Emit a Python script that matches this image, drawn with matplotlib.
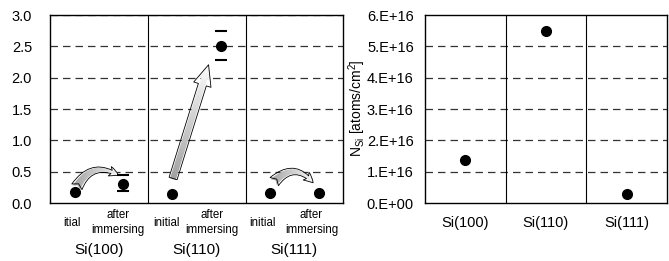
import numpy as np
import matplotlib
matplotlib.use("Agg")
import matplotlib.pyplot as plt
from matplotlib.patches import FancyArrowPatch
from matplotlib.transforms import blended_transform_factory

plt.rcParams['font.family'] = ['Liberation Sans', 'DejaVu Sans']
plt.rcParams['mathtext.default'] = 'regular'

# left panel data
sub_labels = ["itial", "after\nimmersing", "initial", "after\nimmersing", "initial", "after\nimmersing"]
sub_label_x = [-0.05, 0.89, 1.88, 2.82, 3.84, 4.85]
groups = ["Si(100)", "Si(110)", "Si(111)"]
ratio = [0.18, 0.30, 0.14, 2.50, 0.16, 0.16]
err_low = [0, 0.10, 0, 0.22, 0, 0]
err_high = [0, 0.15, 0, 0.25, 0, 0]

# right panel data
n_si = [1.38e16, 5.48e16, 0.30e16]

fig = plt.figure(figsize=(6.69, 2.61), dpi=100)

grid_kw = dict(color='#333333', ls=(0, (6, 4)), lw=0.9)


def shaded_arrow(ax, start, end, style, scale, extent, vertical, **kw):
    # arrow outline + grey-to-white fill clipped to the arrow shape
    arr = FancyArrowPatch(start, end, arrowstyle=style, mutation_scale=scale,
                          fc='none', ec='black', lw=0.6, zorder=4, **kw)
    ax.add_patch(arr)
    g = np.linspace(0.62, 1.0, 64)
    img = g.reshape(-1, 1) if vertical else g.reshape(1, -1)
    im = ax.imshow(img, extent=extent, origin='lower', cmap='gray', vmin=0, vmax=1,
                   aspect='auto', zorder=3, interpolation='bilinear')
    im.set_clip_path(arr)
    return arr


# ---------- left ----------
ax1 = fig.add_axes([0.075, 0.222, 0.438, 0.72])
x1 = np.arange(len(ratio))

shaded_arrow(ax1, (0.02, 0.22), (0.95, 0.42),
             "fancy,head_length=0.5,head_width=0.5,tail_width=0.6", 14,
             (-0.1, 1.05, 0.1, 0.7), False, connectionstyle="arc3,rad=-0.55")
shaded_arrow(ax1, (2.0, 0.35), (2.76, 2.25),
             "simple,head_length=0.75,head_width=0.65,tail_width=0.3", 20,
             (1.8, 3.0, 0.3, 2.3), True)
shaded_arrow(ax1, (4.05, 0.31), (4.92, 0.29),
             "fancy,head_length=0.5,head_width=0.5,tail_width=0.6", 14,
             (3.95, 5.0, 0.1, 0.7), False, connectionstyle="arc3,rad=-0.6")

ax1.set_xlim(-0.5, 5.5)
ax1.set_ylim(0, 3.0)
ax1.set_yticks(np.arange(0, 3.01, 0.5))
ax1.set_yticklabels(["%.1f" % v for v in np.arange(0, 3.01, 0.5)], fontsize=10.5)
ax1.set_xticks([])
ax1.tick_params(axis='y', length=0, pad=13)
for v in np.arange(0.5, 3.01, 0.5):
    ax1.axhline(v, zorder=1, **grid_kw)
for v in [1.5, 3.5]:
    ax1.axvline(v, color='black', lw=0.8, zorder=1)

ax1.plot(x1, ratio, 'o', color='black', ms=7, zorder=5)
idx = [1, 3]
ax1.errorbar(x1[idx], np.array(ratio)[idx],
             yerr=[np.array(err_low)[idx], np.array(err_high)[idx]],
             fmt='none', ecolor='black', elinewidth=0, capsize=4.5, capthick=1.5, zorder=5)

tr = blended_transform_factory(ax1.transData, ax1.transAxes)
for xo, lab in zip(sub_label_x, sub_labels):
    ax1.text(xo, -0.105, lab, transform=tr, ha='center', va='center',
             fontsize=8.3, linespacing=1.3)
for g, lab in enumerate(groups):
    ax1.text(2 * g + 0.5, -0.25, lab, transform=tr, ha='center', va='center', fontsize=11)

for s in ax1.spines.values():
    s.set_linewidth(1.0)

# ---------- right ----------
ax2 = fig.add_axes([0.635, 0.222, 0.362, 0.72])
x2 = np.arange(len(n_si))
ax2.set_xlim(-0.5, 2.5)
ax2.set_ylim(0, 6e16)
yt = np.arange(0, 6.01e16, 1e16)
ax2.set_yticks(yt)
ax2.set_yticklabels(["0.E+00"] + ["%d.E+16" % k for k in range(1, 7)], fontsize=10.5)
ax2.set_xticks(x2)
ax2.set_xticklabels(groups, fontsize=10.5)
ax2.tick_params(axis='y', length=0, pad=8)
ax2.tick_params(axis='x', length=0, pad=9)
for v in yt[1:-1]:
    ax2.axhline(v, zorder=1, **grid_kw)
for v in [0.5, 1.5]:
    ax2.axvline(v, color='black', lw=0.8, zorder=1)
ax2.plot(x2, n_si, 'o', color='black', ms=7, zorder=5)
ax2.set_ylabel("N$_{Si}$ [atoms/cm$^2$]", fontsize=10)
ax2.yaxis.set_label_coords(-0.235, 0.505)
for s in ax2.spines.values():
    s.set_linewidth(1.0)

fig.savefig("out.png", dpi=100)
